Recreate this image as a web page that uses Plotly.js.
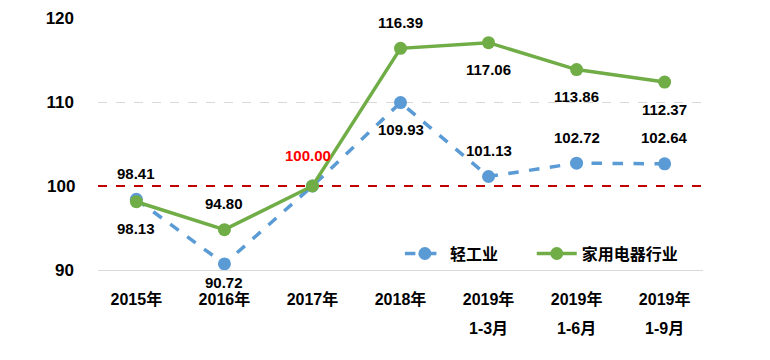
<!DOCTYPE html>
<html>
<head>
<meta charset="utf-8">
<script src="https://cdn.plot.ly/plotly-3.0.1.min.js"></script>
<style>html,body{margin:0;padding:0;background:#fff;}#chart{width:770px;height:360px;}</style>
</head>
<body>
<div id="chart"></div>
<script>
const categories = ['2015年', '2016年', '2017年', '2018年', '2019年 1-3月', '2019年 1-6月', '2019年 1-9月'];
const tickLine1 = ['2015年', '2016年', '2017年', '2018年', '2019年', '2019年', '2019年'];
const tickLine2 = ['', '', '', '', '1-3月', '1-6月', '1-9月'];
const lightIndustry = [98.41, 90.72, 100.00, 109.93, 101.13, 102.72, 102.64];
const appliance = [98.13, 94.80, 100.00, 116.39, 117.06, 113.86, 112.37];
const seriesNames = ['轻工业', '家用电器行业'];
const baseline = 100;

// label placement (style, not data)
const lightSide = ['up', 'near', 'red', 'down', 'up', 'up', 'up'];
const applSide = ['down', 'up', 'none', 'up', 'down', 'down', 'down'];
const shiftFor = {up: 26, down: -27, near: -19, red: 31};

const FONT = 'Liberation Sans, Arial, Noto Sans CJK SC, sans-serif';

const ticktext = tickLine1.map((t, i) => tickLine2[i]
  ? `<span style="font-size:16px">${t}</span><br><br><span style="font-size:16px">${tickLine2[i]}</span>`
  : `<span style="font-size:16px">${t}</span>`);

const traces = [
  {
    x: categories, y: lightIndustry, name: seriesNames[0], type: 'scatter', mode: 'lines+markers',
    line: {color: '#5b9bd5', width: 3.5, dash: 'dash'},
    marker: {color: '#5b9bd5', size: 13}, legend: 'legend'
  },
  {
    x: categories, y: appliance, name: seriesNames[1], type: 'scatter', mode: 'lines+markers',
    line: {color: '#70ad47', width: 3.5},
    marker: {color: '#70ad47', size: 13}, legend: 'legend2'
  }
];

const annotations = [];
function addLabels(vals, sides) {
  vals.forEach((v, i) => {
    const s = sides[i];
    if (s === 'none') return;
    annotations.push({
      x: categories[i], y: v, xref: 'x', yref: 'y', showarrow: false,
      text: '<b>' + v.toFixed(2) + '</b>',
      font: {family: FONT, size: 15, color: s === 'red' ? '#ff0000' : '#000000'},
      yshift: shiftFor[s],
      xshift: s === 'red' ? -4 : 0
    });
  });
}
addLabels(lightIndustry, lightSide);
addLabels(appliance, applSide);

const legendFont = {family: 'Noto Sans CJK SC, sans-serif', size: 16, color: '#000', weight: 'bold'};

const layout = {
  width: 770, height: 360,
  margin: {l: 98, r: 67, t: 18, b: 90},
  paper_bgcolor: '#ffffff', plot_bgcolor: '#ffffff',
  font: {family: FONT, color: '#000000'},
  showlegend: true,
  legend: {
    orientation: 'h', x: 0.499, xanchor: 'left', y: 0.065, yanchor: 'middle',
    font: legendFont, bgcolor: 'rgba(0,0,0,0)', itemwidth: 40
  },
  legend2: {
    orientation: 'h', x: 0.717, xanchor: 'left', y: 0.065, yanchor: 'middle',
    font: legendFont, bgcolor: 'rgba(0,0,0,0)', itemwidth: 40
  },
  xaxis: {
    type: 'category', tickvals: categories, ticktext: ticktext,
    tickfont: {family: 'Liberation Sans, Noto Sans CJK SC, sans-serif', size: 11, color: '#000', weight: 'bold'},
    showgrid: false, showline: true, linecolor: '#d9d9d9', linewidth: 1,
    ticks: '', ticklabelstandoff: 21, zeroline: false, fixedrange: true
  },
  yaxis: {
    range: [90, 120], tickvals: [90, 110, 120],
    tickfont: {family: FONT, size: 17, color: '#000', weight: 'bold'},
    showgrid: true, gridcolor: '#d9d9d9', griddash: 'dash', gridwidth: 1,
    showline: false, zeroline: false, ticks: '', ticklabelstandoff: 23, fixedrange: true
  },
  shapes: [{
    type: 'line', xref: 'paper', yref: 'y', x0: 0, x1: 1, y0: baseline, y1: baseline,
    line: {color: '#c00000', width: 2, dash: 'dash'}, layer: 'between'
  }],
  annotations: annotations.concat([{
    x: 0, xref: 'paper', y: baseline, yref: 'y', xanchor: 'right', showarrow: false,
    text: '<b>100</b>', font: {family: FONT, size: 17, color: '#000'}, xshift: -21
  }])
};

Plotly.newPlot('chart', traces, layout, {displayModeBar: false, staticPlot: true});
</script>
</body>
</html>
